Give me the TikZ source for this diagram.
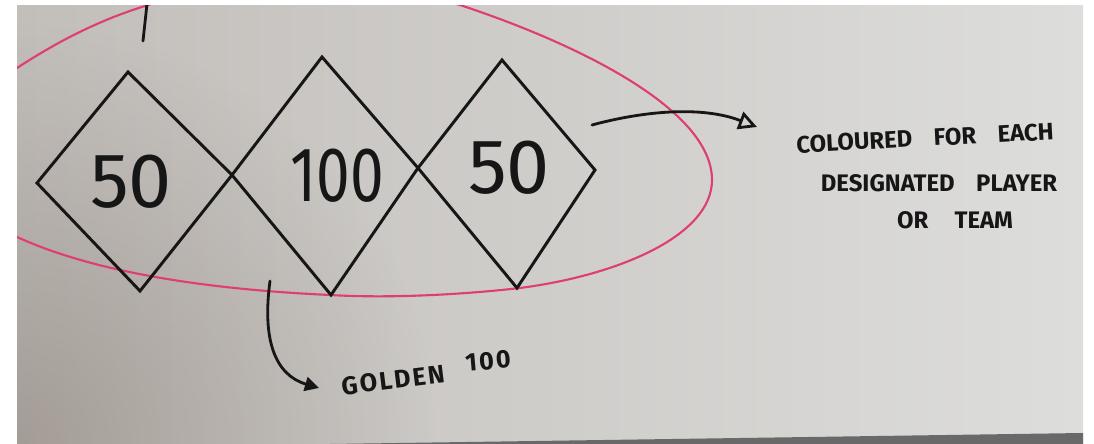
\documentclass[tikz,border=0pt]{standalone}
\usepackage{fontspec}
\setmainfont{Fira Sans}
\newfontfamily\handfont{Fira Sans}
\newfontfamily\numfont{Fira Sans}
\newfontfamily\goldfont[LetterSpace=8]{Fira Sans}
\usetikzlibrary{arrows.meta,fadings}
\definecolor{paperL}{RGB}{194,190,186}
\definecolor{paperR}{RGB}{221,221,219}
\definecolor{shadow}{RGB}{140,130,122}
\definecolor{band}{RGB}{105,105,105}
\definecolor{loop}{RGB}{222,62,112}
\definecolor{ink}{RGB}{22,22,22}
\tikzfading[name=cornerfade, inner color=transparent!45, outer color=transparent!100]
\tikzset{
  diam/.style={draw=ink, line width=2.1pt, line join=miter},
  num/.style={inner sep=0pt, text=ink, font=\numfont\fontsize{55}{55}\selectfont},
  captxt/.style={inner sep=0pt, text=ink, font=\handfont\bfseries\fontsize{17}{17}\selectfont},
  goldtxt/.style={inner sep=0pt, text=ink, font=\goldfont\bfseries\fontsize{18}{18}\selectfont},
  conn/.style={draw=ink, line width=2pt, line cap=round},
  ring/.style={draw=loop, line width=1.5pt}
}
\begin{document}
\begin{tikzpicture}[x=0.025cm,y=-0.025cm]
\useasboundingbox (0,0) rectangle (1094,444);
\fill[white] (0,0) rectangle (1094,444);
\shade[left color=paperL, right color=paperR] (17,6) rectangle (1083,444);
\begin{scope}
\clip (17,6) rectangle (1083,444);
\fill[shadow, path fading=cornerfade] (17,444) circle (420);
\end{scope}
\fill[band] (330,444) -- (1083,433) -- (1083,444) -- cycle;
\begin{scope}
\clip (17,6) rectangle (1083,433);
% loop
\draw[ring] (17,68) .. controls (60,40) and (100,20) .. (145,6)
  .. controls (250,-30) and (380,-20) .. (463,6)
  .. controls (580,45) and (712,110) .. (712,180)
  .. controls (712,235) and (620,275) .. (520,288)
  .. controls (450,296) and (380,298) .. (330,295)
  .. controls (220,290) and (100,275) .. (17,237)
  .. controls (-40,210) and (-40,100) .. (17,68);
% diamonds
\coordinate (aL) at (37,183); \coordinate (aT) at (128,72);
\coordinate (x1) at (232,175); \coordinate (aB) at (140,291);
\coordinate (bT) at (322,57); \coordinate (bB) at (331,295);
\coordinate (x2) at (418,168);
\coordinate (cT) at (502,60); \coordinate (cR) at (595,170); \coordinate (cB) at (517,288);
\draw[diam] (aL) -- (aT) -- (x1) -- (bB) -- (x2) -- (cT) -- (cR) -- (cB) -- (x2) -- (bT) -- (x1) -- (aB) -- cycle;
\node[num] (n1) at (131,182) {50};
\node[num] (n2) at (337,176) {\scalebox{0.78}[1]{100}};
\node[num] (n3) at (509,168) {50};
% top stub
\coordinate (s1) at (147,4); \coordinate (s2) at (143,41);
\draw[conn] (s1) -- (s2);
% right arrow
\coordinate (r0) at (592,125);
\node[captxt, rotate=3] (t1) at (925,138) {COLOURED\hspace{0.9em}FOR\hspace{0.9em}EACH};
\node[captxt] (t2) at (939,183) {DESIGNATED\hspace{0.9em}PLAYER};
\node[captxt] (t3) at (955,220) {OR\hspace{1.1em}TEAM};
\coordinate (r1) at (757,127);
\draw[conn, -{Triangle[open, length=13pt, width=13pt, line width=2pt]}] (r0) .. controls (640,112) and (700,105) .. (r1);
% golden arrow
\coordinate (g0) at (270,281);
\coordinate (g1) at (319,388);
\draw[conn, -{Triangle[length=10pt, width=10pt]}] (g0) .. controls (262,340) and (275,375) .. (g1);
\node[goldtxt, rotate=7] (gl) at (393,380) {GOLDEN};
\node[goldtxt, rotate=5] (gn) at (488,361) {100};
\end{scope}
\end{tikzpicture}
\end{document}
